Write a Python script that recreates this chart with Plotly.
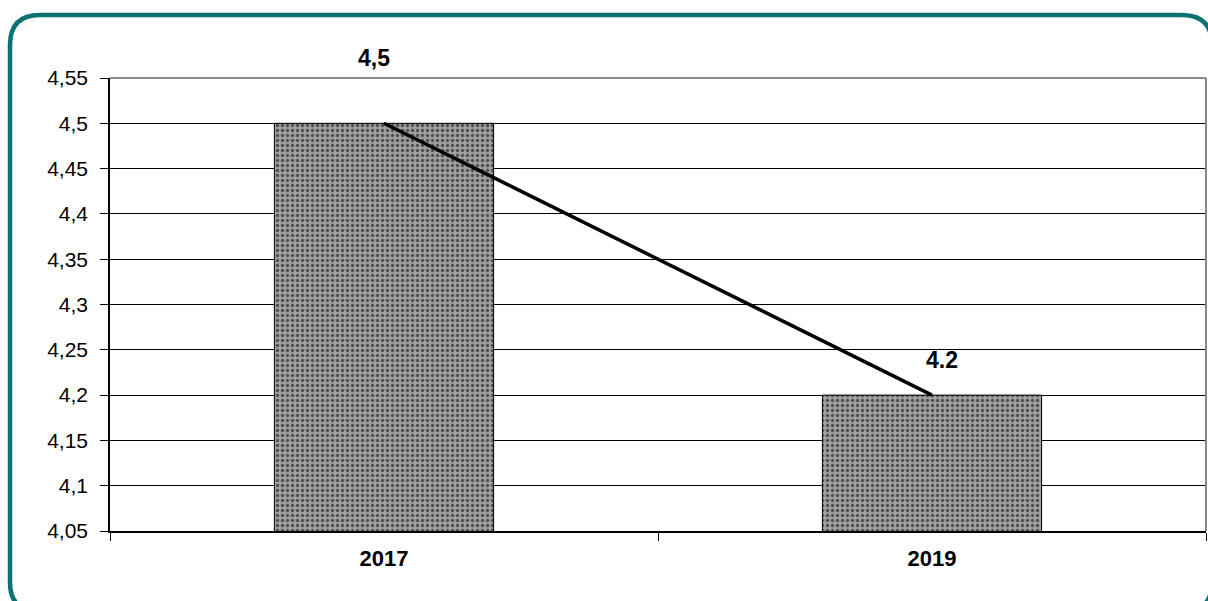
import plotly.graph_objects as go

years = ["2017", "2019"]
values = [4.5, 4.2]
value_labels = ["4,5", "4.2"]

W, H = 1208, 601
L, R, T, B = 110, 2, 78, H - 531


def px(x):
    # window pixel -> paper fraction
    return (x - L) / (W - L - R)


def py(y):
    return (H - B - y) / (H - T - B)


fig = go.Figure()

fig.add_trace(go.Bar(
    x=years, y=values, width=0.4,
    marker=dict(
        color="#909090",
        line=dict(color="black", width=1),
        pattern=dict(shape=".", fgcolor="#000000", bgcolor="#a0a0a0", size=5, solidity=0.35),
    ),
    hoverinfo="skip",
))

fig.add_trace(go.Scatter(
    x=years, y=values, mode="lines",
    line=dict(color="black", width=3.5),
    hoverinfo="skip",
))

# value labels (x given as category index)
shifts = [(-10, 65), (10, 35)]
for i, (lab, v) in enumerate(zip(value_labels, values)):
    fig.add_annotation(x=i, y=v, text="<b>%s</b>" % lab, showarrow=False,
                       xshift=shifts[i][0], yshift=shifts[i][1], font=dict(size=23))

# gray plot border top / right
fig.add_shape(type="line", xref="paper", yref="paper", x0=0, x1=1, y0=1, y1=1,
              line=dict(color="#888888", width=2), layer="above")
fig.add_shape(type="line", xref="paper", yref="paper", x0=1, x1=1, y0=0, y1=1,
              line=dict(color="#888888", width=2), layer="above")

# rounded teal frame
x0, x1, y0, y1, r = 10, 1212, 15, 612, 30
path = (
    f"M {px(x0)},{py(y0 + r)} "
    f"Q {px(x0)},{py(y0)} {px(x0 + r)},{py(y0)} "
    f"L {px(x1 - r)},{py(y0)} "
    f"Q {px(x1)},{py(y0)} {px(x1)},{py(y0 + r)} "
    f"L {px(x1)},{py(y1 - r)} "
    f"Q {px(x1)},{py(y1)} {px(x1 - r)},{py(y1)} "
    f"L {px(x0 + r)},{py(y1)} "
    f"Q {px(x0)},{py(y1)} {px(x0)},{py(y1 - r)} Z"
)
fig.add_shape(type="path", xref="paper", yref="paper", path=path,
              line=dict(color="#0a7372", width=4.5), layer="above")

fig.update_layout(
    width=W, height=H,
    margin=dict(l=L, r=R, t=T, b=B),
    paper_bgcolor="white", plot_bgcolor="white",
    showlegend=False,
    separators=", ",
    font=dict(family="Liberation Sans, Arial", color="black", size=21),
)

fig.update_xaxes(
    type="category", range=[-0.5, 1.5],
    tickson="boundaries", ticks="outside", ticklen=8, tickcolor="black",
    showline=True, linecolor="black", linewidth=1.5,
    showgrid=False,
    tickfont=dict(size=22, weight="bold"),
    ticklabelstandoff=7,
)

fig.update_yaxes(
    range=[4.05, 4.55], dtick=0.05, tick0=4.05,
    ticks="outside", ticklen=8, tickcolor="black",
    showline=True, linecolor="black", linewidth=1.5,
    showgrid=True, gridcolor="black", gridwidth=1,
    tickfont=dict(size=21),
    ticklabelstandoff=8,
    zeroline=False,
)

# drop the default page margin so the figure fills the window
fig.write_html("out.html", config={"displayModeBar": False},
               post_script="document.body.style.margin='0';document.body.style.overflow='hidden';")
